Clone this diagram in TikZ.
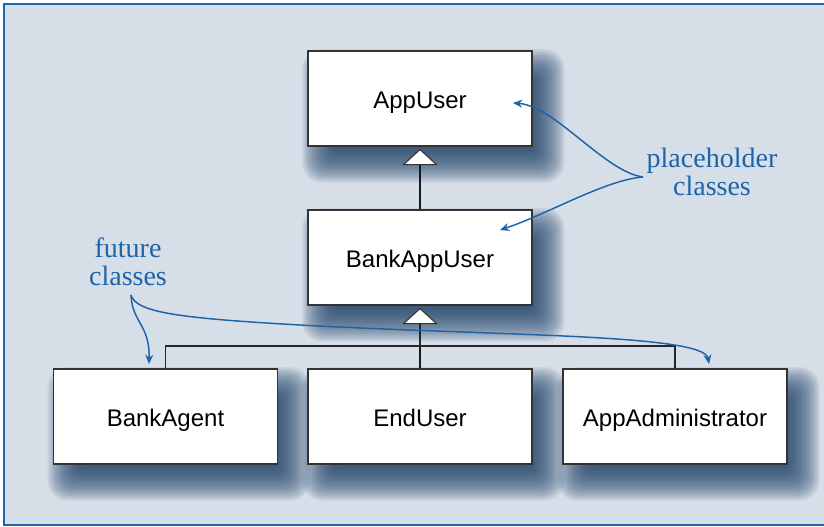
\documentclass[tikz,border=0pt]{standalone}
\usepackage{fontspec}
\setsansfont{Liberation Sans}
\setmainfont{Liberation Serif}
\usetikzlibrary{arrows.meta}
\definecolor{bgc}{HTML}{D6DEE8}
\definecolor{frameblue}{HTML}{1F66AA}
\definecolor{annblue}{HTML}{1E64A8}
\definecolor{shc}{HTML}{284A6E}
\pgfdeclarelayer{bglayer}
\pgfdeclarelayer{shlayer}
\pgfsetlayers{bglayer,shlayer,main}
\newcommand\boxshadow[1]{%
  \foreach \k in {0,...,23}{%
    \pgfmathsetmacro\ins{-14+1.15*\k}%
    \pgfmathsetmacro\rad{max(1,1+(14-\ins)*0.5)}%
    \fill[shc, opacity=0.08, rounded corners=\rad pt]
      ([xshift=10pt+\ins pt, yshift=-13pt+\ins pt]#1.south west) rectangle
      ([xshift=10pt-\ins pt, yshift=-13pt-\ins pt]#1.north east);
  }}
\tikzset{
  cls/.style={draw=black!80, fill=white, line width=0.9pt, inner sep=0pt,
    minimum width=168pt, minimum height=71.25pt,
    text height=15.5pt, text depth=0pt,
    font=\sffamily\fontsize{18}{20}\selectfont},
  ann/.style={text=annblue, align=center, inner sep=0pt,
    font=\fontsize{21}{21}\selectfont},
  annarrow/.style={draw=annblue, line width=1.1pt,
    -{Stealth[length=7pt, width=6pt]}},
  inhline/.style={draw=black!90, line width=1.5pt},
  treeline/.style={draw=black!85, line width=0.9pt},
  tri/.style={draw=black!80, fill=white, line width=0.8pt, line join=miter}
}
\begin{document}
\begin{tikzpicture}[x=0.75pt, y=-0.75pt]
\useasboundingbox (0,0) rectangle (824,527);
\begin{pgfonlayer}{bglayer}
  \begin{scope}
    \clip (0,0) rectangle (824,527);
    \fill[bgc] (4,4) rectangle (840,525);
    \draw[frameblue, line width=1.5pt] (4,4) rectangle (840,525);
  \end{scope}
\end{pgfonlayer}

% class boxes
\node[cls] (au) at (420,98.5) {AppUser};
\node[cls] (bau) at (420,257.5) {BankAppUser};
\node[cls] (ba) at (165.5,416.5) {BankAgent};
\node[cls] (eu) at (420,416.5) {EndUser};
\node[cls] (ad) at (675,416.5) {AppAdministrator};

\begin{pgfonlayer}{shlayer}
  \begin{scope}
    \clip (5,5) rectangle (824,524);
    \boxshadow{au}
    \boxshadow{bau}
    \boxshadow{ba}
    \boxshadow{eu}
    \boxshadow{ad}
  \end{scope}
\end{pgfonlayer}

% inheritance AppUser <- BankAppUser
\path ([yshift=-2.25pt]au.south) coordinate (apexA)
      ([yshift=-13.5pt]au.south) coordinate (baseA);
\draw[inhline] (bau.north) -- (baseA);
\draw[tri] (apexA) -- ++(-16.5,15) -- ++(33,0) -- cycle;

% inheritance BankAppUser <- three subclasses
\path ([yshift=-2.25pt]bau.south) coordinate (apexB)
      ([yshift=-13.5pt]bau.south) coordinate (baseB);
\coordinate (jn) at (420,346);
\draw[treeline] (baseB) -- (jn);
\draw[inhline, line width=2pt] (eu.north) -- (jn);
\draw[treeline] (ba.north) -- (ba.north |- jn) -- (ad.north |- jn) -- (ad.north);
\draw[tri] (apexB) -- ++(-16.5,15) -- ++(33,0) -- cycle;

% annotations
\node[ann] (ph) at (712,171.5) {placeholder\\classes};
\coordinate (phc) at (643,177);
\coordinate (phA) at (513,103);
\coordinate (phB) at (500,230);
\draw[annarrow] (phc) .. controls (605,172) and (555,106) .. (phA);
\draw[annarrow] (phc) .. controls (605,180) and (548,214) .. (phB);

\node[ann] (fc) at (128,262) {future\\classes};
\coordinate (fco) at (131,295);
\coordinate (fcA) at (149,364);
\coordinate (fcB) at (709,364);
\draw[annarrow] (fco) .. controls (132,322) and (150,325) .. (fcA);
\draw[annarrow] (fco) .. controls (136,312) and (175,318) .. (300,325)
  .. controls (500,336) and (704,334) .. (fcB);
\end{tikzpicture}
\end{document}
